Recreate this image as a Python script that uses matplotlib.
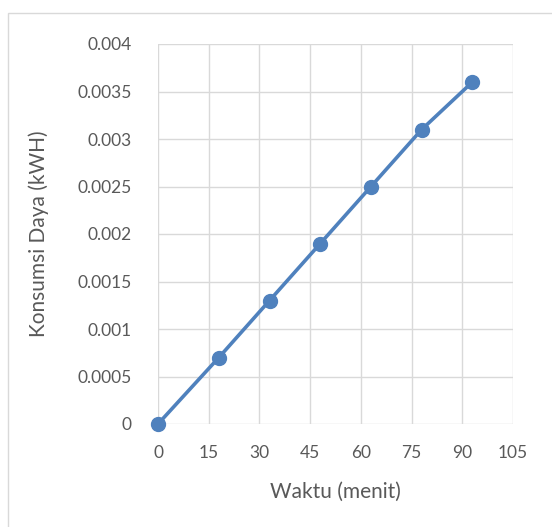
import matplotlib.pyplot as plt
from matplotlib.patches import Rectangle

# data
waktu = [0, 18, 33, 48, 63, 78, 93]
konsumsi = [0, 0.0007, 0.0013, 0.0019, 0.0025, 0.0031, 0.0036]
x_ticks = [0, 15, 30, 45, 60, 75, 90, 105]
y_ticks = [0, 0.0005, 0.001, 0.0015, 0.002, 0.0025, 0.003, 0.0035, 0.004]
y_labels = ['0', '0.0005', '0.001', '0.0015', '0.002', '0.0025', '0.003', '0.0035', '0.004']

plt.rcParams['font.family'] = ['Lato', 'DejaVu Sans']
grey = '#595959'

fig = plt.figure(figsize=(5.52, 5.27), dpi=100)
ax = fig.add_axes([158 / 552, 1 - 424 / 527, 355 / 552, 380 / 527])

# chart area border (runs off the image right and bottom)
fig.patches.append(Rectangle((8 / 552, -0.1), 1.2, 1 - 13 / 527 + 0.1,
                             transform=fig.transFigure, fill=False,
                             edgecolor='#d9d9d9', linewidth=1))

ax.plot(waktu, konsumsi, color='#4f81bd', linewidth=2.6, marker='o',
        markersize=10, zorder=3, clip_on=False)

ax.set_xlim(0, 105)
ax.set_ylim(0, 0.004)
ax.set_xticks(x_ticks)
ax.set_yticks(y_ticks)
ax.set_yticklabels(y_labels)
ax.grid(True, color='#d9d9d9', linewidth=1)
ax.set_axisbelow(True)
for s in ax.spines.values():
    s.set_visible(False)
ax.tick_params(length=0, labelsize=12.5, labelcolor=grey)
ax.tick_params(axis='x', pad=15)
ax.tick_params(axis='y', pad=19)

ax.set_xlabel('Waktu (menit)', fontsize=15, color=grey, labelpad=15)
ax.set_ylabel('Konsumsi Daya (kWH)', fontsize=15, color=grey, labelpad=20)

fig.savefig('out.png', dpi=100)
